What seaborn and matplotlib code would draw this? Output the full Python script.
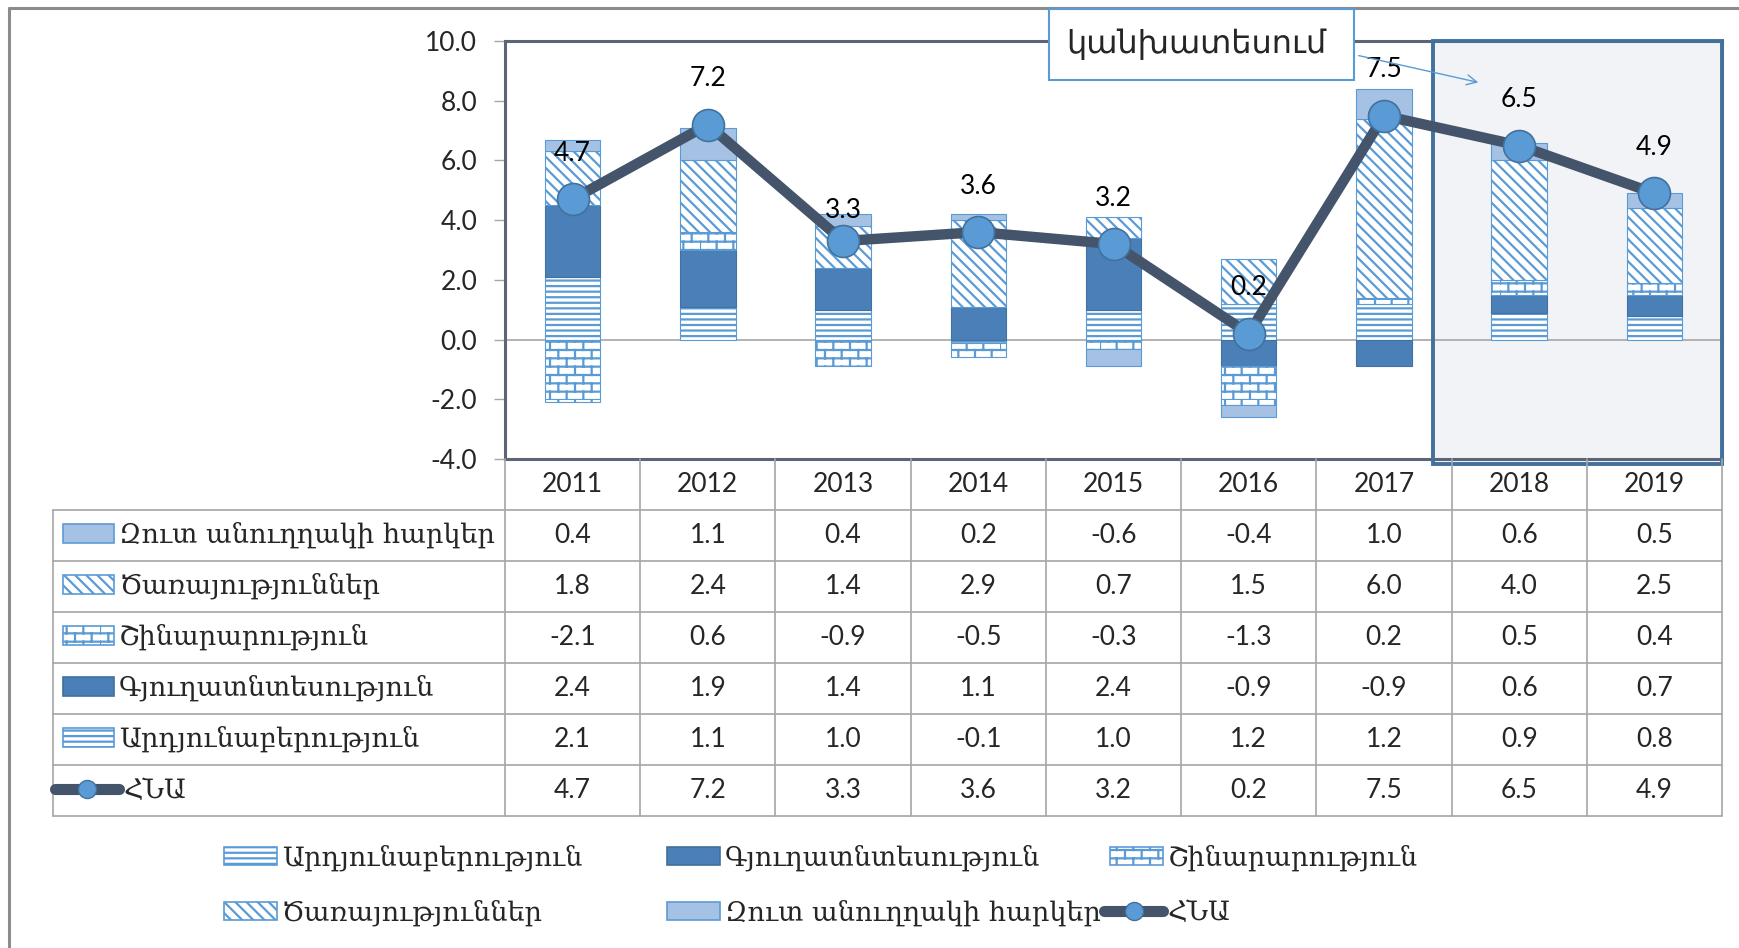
import warnings
warnings.filterwarnings("ignore")
import numpy as np
import pandas as pd
import matplotlib
matplotlib.use("Agg")
import matplotlib.pyplot as plt
import matplotlib.hatch as mhatch
from matplotlib.path import Path
from matplotlib.patches import Patch, Rectangle
from matplotlib.lines import Line2D
from matplotlib.font_manager import FontProperties
import matplotlib.transforms as mtransforms
import seaborn as sns

# ---------------- data ----------------
years = ['2011', '2012', '2013', '2014', '2015', '2016', '2017', '2018', '2019']
industry = [2.1, 1.1, 1.0, -0.1, 1.0, 1.2, 1.2, 0.9, 0.8]
agriculture = [2.4, 1.9, 1.4, 1.1, 2.4, -0.9, -0.9, 0.6, 0.7]
construction = [-2.1, 0.6, -0.9, -0.5, -0.3, -1.3, 0.2, 0.5, 0.4]
services = [1.8, 2.4, 1.4, 2.9, 0.7, 1.5, 6.0, 4.0, 2.5]
taxes = [0.4, 1.1, 0.4, 0.2, -0.6, -0.4, 1.0, 0.6, 0.5]
gdp = [4.7, 7.2, 3.3, 3.6, 3.2, 0.2, 7.5, 6.5, 4.9]

lab_ind = 'Արդյունաբերություն'
lab_agr = 'Գյուղատնտեսություն'
lab_con = 'Շինարարություն'
lab_ser = 'Ծառայություններ'
lab_tax = 'Զուտ անուղղակի հարկեր'
lab_gdp = 'ՀՆԱ'
forecast_label = 'կանխատեսում'
forecast_years = ['2018', '2019']
yticks = [-4, -2, 0, 2, 4, 6, 8, 10]

# ---------------- custom brick hatch ----------------
class BrickHatch(mhatch.HatchPatternBase):
    def __init__(self, hatch, density):
        n = hatch.count('k')
        self.rows = int(n * density * 2)
        self.cols = int(n * density)
        self.num_vertices = 0 if n == 0 else self.rows * 2 + self.rows * self.cols * 2

    def set_vertices_and_codes(self, vertices, codes):
        rows, cols = self.rows, self.cols
        h = 1.0 / rows
        w = 1.0 / cols
        v = []
        for r in range(rows):
            v.append((0.0, r * h)); v.append((1.0, r * h))
        for r in range(rows):
            off = 0.0 if r % 2 == 0 else w / 2
            for c in range(cols):
                x = c * w + off
                v.append((x, r * h)); v.append((x, (r + 1) * h))
        vertices[:] = np.array(v)
        codes[0::2] = Path.MOVETO
        codes[1::2] = Path.LINETO

mhatch._hatch_types.append(BrickHatch)

# ---------------- style ----------------
sns.set_style('white')
plt.rcParams['font.family'] = ['Lato', 'DejaVu Sans']
plt.rcParams['hatch.linewidth'] = 1.6

BLUE = '#5B9BD5'
AGR = '#4A7FB8'
TAX = '#A5C2E4'
LINE = '#44546A'
MEC = '#41719C'
GRID = '#A6A6A6'

W, H = 1740, 948
def fx(px): return px / W
def fy(py): return 1 - py / H

fig = plt.figure(figsize=(W / 100, H / 100), dpi=100)
ax = fig.add_axes([fx(505), fy(459), fx(1722) - fx(505), fy(41) - fy(459)])

styles = {
    lab_ind: dict(fc='white', ec=BLUE, hatch='---'),
    lab_agr: dict(fc=AGR, ec=MEC, hatch=None),
    lab_con: dict(fc='white', ec=BLUE, hatch='k'),
    lab_ser: dict(fc='white', ec=BLUE, hatch='\\\\\\'),
    lab_tax: dict(fc=TAX, ec=BLUE, hatch=None),
}
series = [(lab_ind, industry), (lab_agr, agriculture), (lab_con, construction),
          (lab_ser, services), (lab_tax, taxes)]

pos = np.zeros(len(years))
neg = np.zeros(len(years))
for lab, vals in series:
    vals = np.array(vals, dtype=float)
    bottoms = np.where(vals >= 0, pos, neg)
    pos = pos + np.where(vals >= 0, vals, 0)
    neg = neg + np.where(vals < 0, vals, 0)
    st = styles[lab]
    df = pd.DataFrame({'year': years, 'val': vals})
    sns.barplot(data=df, x='year', y='val', order=years, color=st['fc'], saturation=1,
                width=0.41, errorbar=None, ax=ax, bottom=bottoms, hatch=st['hatch'],
                edgecolor=st['ec'], linewidth=0.8, zorder=2)

# forecast highlight
f0 = years.index(forecast_years[0])
f1 = years.index(forecast_years[-1])
rx0 = f0 - 0.5 - 0.14
ax.add_patch(Rectangle((rx0, -4.17), f1 + 0.5 - rx0, 14.17, facecolor='#F2F3F7',
                       edgecolor='none', zorder=0.5, clip_on=False))
ax.add_patch(Rectangle((rx0, -4.17), f1 + 0.5 - rx0, 14.17, fill=False,
                       edgecolor='#41719C', lw=2.8, zorder=3.5, clip_on=False))

ax.axhline(0, color=GRID, lw=1.2, zorder=1)

# GDP line
sns.lineplot(x=np.arange(len(years)), y=gdp, ax=ax, sort=False, errorbar=None,
             color=LINE, linewidth=7.5, marker='o', markersize=23,
             markerfacecolor=BLUE, markeredgecolor=MEC, markeredgewidth=1.2,
             solid_joinstyle='round', zorder=4)
for i, v in enumerate(gdp):
    off = 22 if v == 3.3 else 33
    ax.annotate(f'{v:.1f}', xy=(i, v), xytext=(0, off), textcoords='offset points',
                ha='center', va='center', fontsize=19, color='black', zorder=6)

ax.set_xlim(-0.5, len(years) - 0.5)
ax.set_ylim(-4, 10)
ax.set_yticks(yticks)
ax.set_yticklabels([f'{t:.1f}' for t in yticks])
ax.tick_params(axis='y', direction='out', length=8, width=1, color=GRID,
               labelsize=19, pad=12, left=True)
ax.tick_params(axis='x', length=0, labelbottom=False)
ax.set_xlabel('')
ax.set_ylabel('')
for s in ['left', 'top', 'bottom', 'right']:
    ax.spines[s].set_visible(True)
    ax.spines[s].set_color('#5A6577')
    ax.spines[s].set_linewidth(2.2)

# ---------------- data table ----------------
blend = mtransforms.blended_transform_factory(ax.transData, fig.transFigure)
t_top, t_hdr, row_h = 459, 510, 51
rows = [(lab_tax, taxes), (lab_ser, services), (lab_con, construction),
        (lab_agr, agriculture), (lab_ind, industry), (lab_gdp, gdp)]
t_bot = t_hdr + row_h * len(rows)
for k in range(len(years) + 1):
    fig.add_artist(Line2D([k - 0.5, k - 0.5], [fy(t_top), fy(t_bot)], transform=blend,
                          color=GRID, lw=1.2))
fig.add_artist(Line2D([fx(53), fx(53)], [fy(t_hdr), fy(t_bot)], transform=fig.transFigure,
                      color=GRID, lw=1.2))
for r in range(len(rows) + 1):
    yy = fy(t_hdr + r * row_h)
    fig.add_artist(Line2D([fx(53), fx(1722)], [yy, yy], transform=fig.transFigure,
                          color=GRID, lw=1.2))
for i, y in enumerate(years):
    fig.text(i, fy((t_top + t_hdr) / 2), y, transform=blend, ha='center', va='center',
             fontsize=19)
for r, (lab, vals) in enumerate(rows):
    yc = fy(t_hdr + r * row_h + row_h / 2)
    for i, v in enumerate(vals):
        fig.text(i, yc, f'{v:.1f}', transform=blend, ha='center', va='center', fontsize=19)

ARM = ['DejaVu Serif', 'DejaVu Sans']
ARM_FS = 19.5
def handle_for(lab):
    if lab == lab_gdp:
        return Line2D([], [], color=LINE, lw=8, marker='o', markersize=13,
                      markerfacecolor=BLUE, markeredgecolor=MEC, markeredgewidth=1,
                      solid_capstyle='round')
    st = styles[lab]
    return Patch(facecolor=st['fc'], edgecolor=st['ec'], hatch=st['hatch'], lw=1.2)

def put_legend(lab, x_px, y_px, hl_px):
    fs_px = ARM_FS * 100 / 72
    fig.legend([handle_for(lab)], [lab], loc='center left',
               bbox_to_anchor=(fx(x_px), fy(y_px)), bbox_transform=fig.transFigure,
               frameon=False, borderpad=0, borderaxespad=0,
               handlelength=hl_px / fs_px, handleheight=18 / fs_px,
               handletextpad=5 / fs_px, prop=FontProperties(family=ARM, size=ARM_FS))

for r, (lab, vals) in enumerate(rows):
    yc = t_hdr + r * row_h + row_h / 2
    if lab == lab_gdp:
        put_legend(lab, 55, yc, 64)
    else:
        put_legend(lab, 63, yc, 51)

# bottom legend
put_legend(lab_ind, 224, 858, 53)
put_legend(lab_agr, 667, 858, 53)
put_legend(lab_con, 1110, 858, 53)
put_legend(lab_ser, 224, 913, 53)
put_legend(lab_tax, 667, 913, 53)
put_legend(lab_gdp, 1104, 913, 59)

# forecast annotation
fig.add_artist(Rectangle((fx(1049), fy(80)), fx(1354) - fx(1049), (80 - 9) / H,
                         transform=fig.transFigure, facecolor='white', edgecolor=BLUE,
                         lw=1.5, zorder=10))
fig.text(fx(1196), fy(44), forecast_label, ha='center', va='center', fontsize=23,
         family=['DejaVu Sans'], zorder=11)
fig.add_artist(matplotlib.patches.FancyArrowPatch(
    (fx(1356), fy(55)), (fx(1481), fy(83)), transform=fig.transFigure,
    arrowstyle='->', mutation_scale=18, color=BLUE, lw=1, zorder=10))

# outer frame
fig.add_artist(Line2D([fx(9), fx(9)], [0, fy(8)], transform=fig.transFigure,
                      color='#8C8C8C', lw=2.2))
fig.add_artist(Line2D([fx(9), 1], [fy(8), fy(8)], transform=fig.transFigure,
                      color='#8C8C8C', lw=2.2))

fig.savefig('out.png', dpi=100, facecolor='white')
